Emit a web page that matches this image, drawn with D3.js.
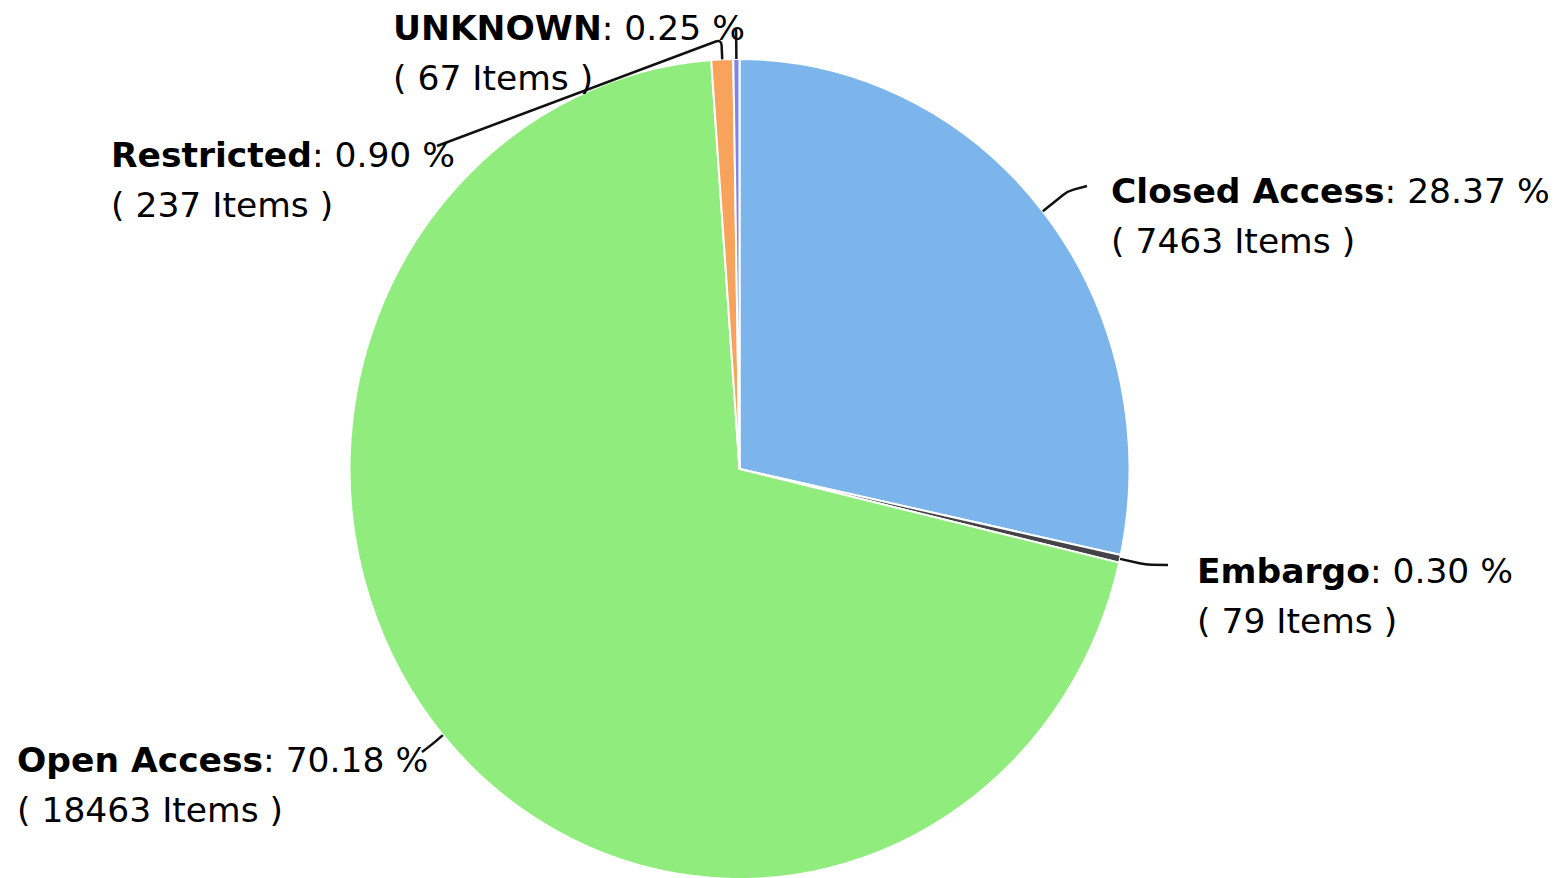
<!DOCTYPE html>
<html>
<head>
<meta charset="utf-8">
<script src="https://cdn.jsdelivr.net/npm/d3@7"></script>
<style>
  body { margin: 0; background: #fff; }
  text { font-family: "DejaVu Sans", sans-serif; font-size: 34.5px; fill: #000; }
</style>
</head>
<body>
<div class="contents"></div>
<script>
var width = 1561;
var height = 878;

// data
var names = ["Closed Access", "Embargo", "Open Access", "Restricted", "UNKNOWN"];
var items = [7463, 79, 18463, 237, 67];
var colors = ["#7cb5ec", "#434348", "#90ed7d", "#f7a35c", "#8085e9"];

// label layout (first baseline, connector end)
var labelPos = {
	"Closed Access": {x: 1111, y: 203, ex: 1087, ey: 186, pad: 32},
	"Embargo":       {x: 1197, y: 583, ex: 1168, ey: 565, pad: 26},
	"Open Access":   {x: 17,   y: 772, ex: 422,  ey: 752, pad: 14},
	"Restricted":    {x: 111,  y: 167, ex: 437,  ey: 146, pad: 20},
	"UNKNOWN":       {x: 393,  y: 40,  ex: 736,  ey: 29,  pad: 24}
};

var cx = 739.5, cy = 469;
var rx = 390, ry = 410;

var total = d3.sum(items);
var data = names.map(function(n, i){ return {name: n, value: items[i], color: colors[i]}; });

var svg = d3.select(".contents").append("svg")
			.attr("width", width)
			.attr("height", height);

var pie = d3.pie().sort(null).value(function(d){ return d.value; });
var arcs = pie(data);

var arc = d3.arc().innerRadius(0).outerRadius(rx);

var pieG = svg.append("g")
		.attr("transform", "translate(" + cx + "," + cy + ") scale(1," + (ry / rx) + ")");

pieG.selectAll("path")
		.data(arcs)
		.enter()
		.append("path")
		.attr("d", arc)
		.style("fill", function(d){ return d.data.color; })
		.style("stroke", "#fff")
		.style("stroke-width", 2)
		.attr("vector-effect", "non-scaling-stroke");

// connectors
function edgePoint(d, extra){
	var a = (d.startAngle + d.endAngle) / 2;
	return [cx + (rx + extra) * Math.sin(a), cy - (ry + extra) * Math.cos(a)];
}

svg.selectAll("path.conn")
		.data(arcs)
		.enter()
		.append("path")
		.attr("class", "conn")
		.attr("d", function(d){
			var p = labelPos[d.data.name];
			var s = edgePoint(d, 0);
			var b = edgePoint(d, p.pad);
			var k = 6;
			var d1 = Math.hypot(b[0] - s[0], b[1] - s[1]);
			var d2 = Math.hypot(p.ex - b[0], p.ey - b[1]) || 1;
			var p1 = [b[0] - (b[0] - s[0]) * k / d1, b[1] - (b[1] - s[1]) * k / d1];
			var p2 = [b[0] + (p.ex - b[0]) * Math.min(k, d2) / d2, b[1] + (p.ey - b[1]) * Math.min(k, d2) / d2];
			return "M" + s + "L" + p1 + "Q" + b + " " + p2 + "L" + [p.ex, p.ey];
		})
		.style("fill", "none")
		.style("stroke", "#111")
		.style("stroke-width", 2.5);

// labels
var label = svg.selectAll("text.lbl")
		.data(arcs)
		.enter()
		.append("text")
		.attr("class", "lbl")
		.attr("x", function(d){ return labelPos[d.data.name].x; })
		.attr("y", function(d){ return labelPos[d.data.name].y; });

label.append("tspan")
		.style("font-weight", "bold")
		.text(function(d){ return d.data.name; });
label.append("tspan")
		.text(function(d){ return ": " + (d.data.value / total * 100).toFixed(2) + " %"; });
label.append("tspan")
		.attr("x", function(d){ return labelPos[d.data.name].x; })
		.attr("dy", 50)
		.text(function(d){ return "( " + d.data.value + " Items )"; });
</script>
</body>
</html>
